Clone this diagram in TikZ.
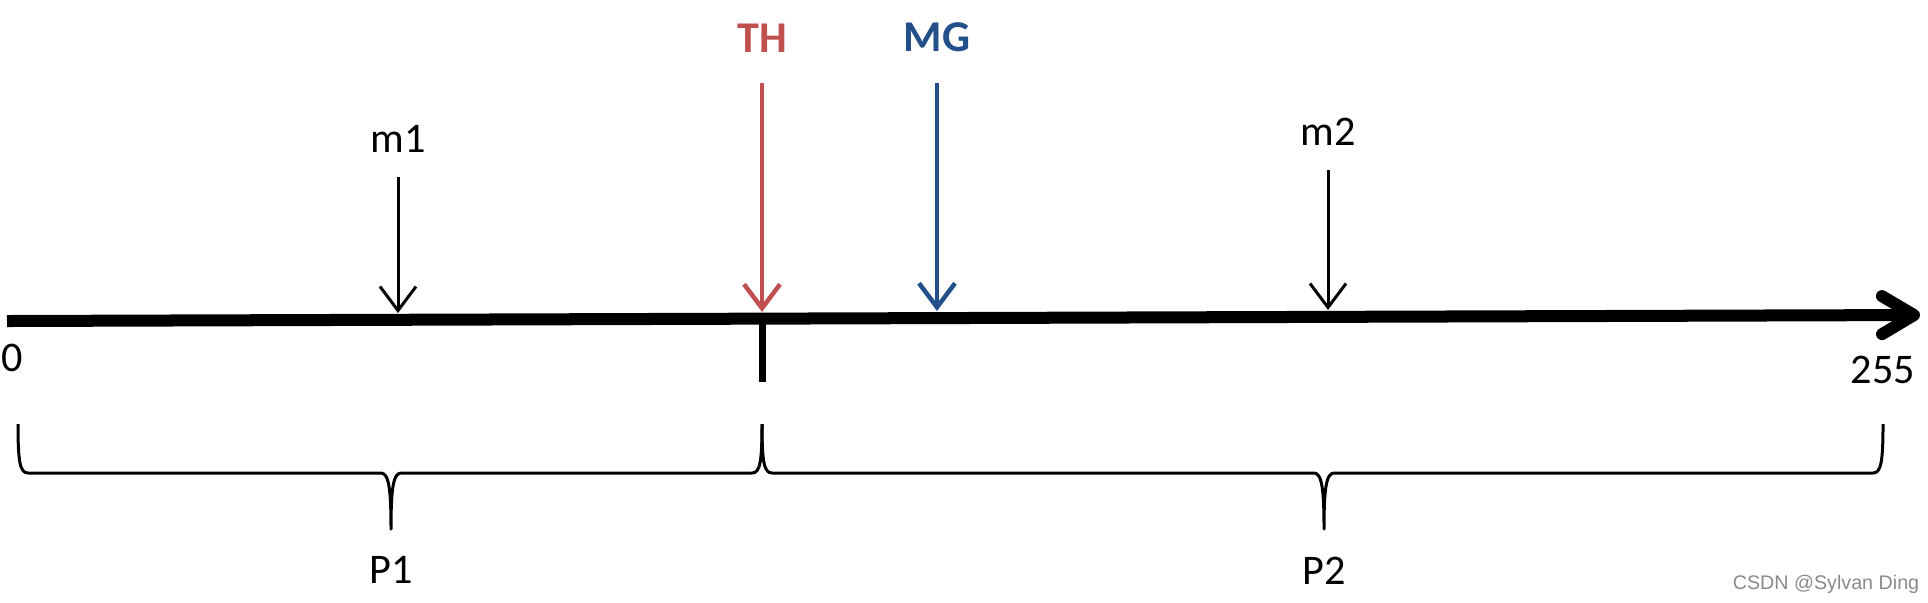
\documentclass[tikz,border=0pt]{standalone}
\usepackage{fontspec}
\setmainfont{Carlito}
\newfontfamily\wmfont{Liberation Sans}
\usetikzlibrary{arrows.meta,positioning}
\definecolor{thred}{HTML}{C0504D}
\definecolor{mgblue}{HTML}{23508A}
\definecolor{wmgray}{HTML}{8A8A8A}

\begin{document}
\begin{tikzpicture}[
  x=0.01cm, y=-0.01cm,
  axisline/.style={line width=1.2mm, -{Straight Barb[length=3.2mm,width=3.8mm,round]}},
  ptr/.style={line width=0.3mm, -{Straight Barb[length=2.4mm,width=3.6mm]}},
  ptrth/.style={ptr, draw=thred, line width=0.45mm},
  ptrmg/.style={ptr, draw=mgblue, line width=0.45mm},
  lbl/.style={font=\fontsize{12}{14}\selectfont, inner sep=0pt},
  lblb/.style={font=\fontsize{12.5}{15}\selectfont\bfseries, inner sep=0pt},
  bracel/.style={line width=0.3mm, line join=round},
]
% page in px: 1928 x 602, y downwards
\useasboundingbox (0,0) rectangle (1928,602);

% axis 0..255
\coordinate (ax0) at (7,321);
\coordinate (ax1) at (1920,315);
\draw[axisline] (ax0) -- (ax1);
\node[lbl] (n0) at (12,358) {0};
\node[lbl] (n255) at (1883,370) {255};

% split mark under TH
\coordinate (tk0) at (762,317);
\coordinate (tk1) at (762,382);
\draw[line width=0.7mm] (tk0) -- (tk1);

% class means
\foreach \nm/\xx/\ys/\ye in {m1/398/177/313, m2/1328/170/310} {
  \coordinate (\nm-s) at (\xx,\ys);
  \coordinate (\nm-e) at (\xx,\ye);
  \draw[ptr] (\nm-s) -- (\nm-e);
  \node[lbl, above=2.4mm of \nm-s] (\nm-l) {\nm};
}

% threshold and global mean
\coordinate (th-s) at (762,83);
\coordinate (th-e) at (762,312);
\coordinate (mg-s) at (937,83);
\coordinate (mg-e) at (937,311);
\draw[ptrth] (th-s) -- (th-e);
\draw[ptrmg] (mg-s) -- (mg-e);
\node[lblb, text=thred, above=3mm of th-s] (th-l) {TH};
\node[lblb, text=mgblue, above=3mm of mg-s] (mg-l) {MG};

% braces for the two classes
\foreach \nm/\xa/\xm/\xb in {P1/18/391/762, P2/762/1324/1883} {
  \draw[bracel] (\xa,424) .. controls (\xa,462) and (\xa+2,473) .. (\xa+10,473)
    -- (\xm-10,473) .. controls (\xm-2,473) and (\xm,490) .. (\xm,529)
    .. controls (\xm,490) and (\xm+2,473) .. (\xm+10,473)
    -- (\xb-10,473) .. controls (\xb-2,473) and (\xb,462) .. (\xb,424);
  \coordinate (\nm-tip) at (\xm,529);
  \node[lbl, below=2.7mm of \nm-tip] (\nm-l) {\nm};
}

\node[font=\wmfont\fontsize{5.6}{7}\selectfont, text=wmgray, inner sep=0pt] (wm) at (1826,584) {CSDN @Sylvan Ding};
\end{tikzpicture}
\end{document}
